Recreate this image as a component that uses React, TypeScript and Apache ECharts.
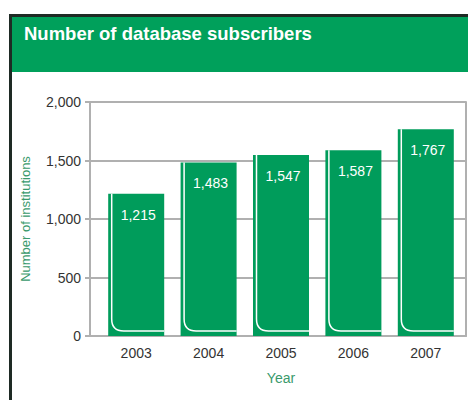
import React, { useEffect, useRef } from "react";
import * as echarts from "echarts";

const years = ["2003", "2004", "2005", "2006", "2007"];
const subscribers = [1215, 1483, 1547, 1587, 1767];
const yTicks = { min: 0, max: 2000, interval: 500 };
const titleText = "Number of database subscribers";
const yName = "Number of institutions";
const xName = "Year";

const GREEN = "#009c5b";
const GRID_GRAY = "#b0b0b0";
const FONT = "'Liberation Sans', Arial, sans-serif";

const fmt = (v: number) => v.toLocaleString("en-US");

export default function App() {
  const ref = useRef<HTMLDivElement>(null);
  useEffect(() => {
    if (!ref.current) return;
    const chart = echarts.init(ref.current, null, { renderer: "svg" });
    const barW = 56;
    chart.setOption({
      animation: false,
      backgroundColor: "#ffffff",
      textStyle: { fontFamily: FONT },
      graphic: [
        { type: "rect", shape: { x: 9, y: 14, width: 459, height: 3 }, style: { fill: "#1e2a24" } },
        { type: "rect", shape: { x: 9, y: 14, width: 3, height: 386 }, style: { fill: "#1e2a24" } },
        { type: "rect", shape: { x: 12, y: 17, width: 456, height: 55 }, style: { fill: "#00a05b" } },
        {
          type: "text",
          x: 24,
          y: 33,
          style: {
            text: titleText,
            fill: "#ffffff",
            font: `bold 18.5px ${FONT}`,
            verticalAlign: "middle",
          },
        },
      ],
      grid: [
        { left: 90, top: 102, width: 376, height: 234 },
        { left: 100, top: 102, width: 362, height: 234 },
      ],
      xAxis: [
        {
          gridIndex: 0,
          type: "value",
          min: 0,
          max: 1,
          axisLine: { show: true, lineStyle: { color: GRID_GRAY, width: 2 } },
          axisTick: { show: false },
          axisLabel: { show: false },
          splitLine: { show: false },
        },
        {
          gridIndex: 1,
          type: "category",
          data: years,
          axisLine: { show: false },
          axisTick: { show: false },
          axisLabel: { color: "#333333", fontSize: 14, margin: 10, fontFamily: FONT },
          name: xName,
          nameLocation: "middle",
          nameGap: 35,
          nameTextStyle: { color: "#3a9a6c", fontSize: 14, fontFamily: FONT },
        },
      ],
      yAxis: [
        {
          gridIndex: 0,
          type: "value",
          min: yTicks.min,
          max: yTicks.max,
          interval: yTicks.interval,
          axisLine: { show: true, lineStyle: { color: GRID_GRAY, width: 2 } },
          axisTick: { show: true, length: 5, lineStyle: { color: GRID_GRAY, width: 2 } },
          axisLabel: {
            color: "#333333",
            fontSize: 14,
            margin: 9,
            fontFamily: FONT,
            formatter: (v: number) => fmt(v),
          },
          splitLine: { show: true, lineStyle: { color: GRID_GRAY, width: 2 } },
          name: yName,
          nameLocation: "middle",
          nameGap: 58,
          nameTextStyle: { color: "#3a9a6c", fontSize: 13, fontFamily: FONT },
        },
        {
          gridIndex: 0,
          type: "value",
          position: "right",
          min: yTicks.min,
          max: yTicks.max,
          interval: yTicks.interval,
          axisLine: { show: true, lineStyle: { color: GRID_GRAY, width: 2 } },
          axisTick: { show: false },
          axisLabel: { show: false },
          splitLine: { show: false },
        },
        {
          gridIndex: 1,
          type: "value",
          min: yTicks.min,
          max: yTicks.max,
          interval: yTicks.interval,
          show: false,
        },
      ],
      series: [
        {
          type: "bar",
          xAxisIndex: 1,
          yAxisIndex: 2,
          data: subscribers,
          barWidth: barW,
          itemStyle: { color: GREEN },
          label: {
            show: true,
            position: "insideTop",
            distance: 14,
            color: "#ffffff",
            fontSize: 14,
            fontFamily: FONT,
            offset: [2, 0],
            formatter: (p: any) => fmt(p.value),
          },
          z: 2,
        },
        {
          type: "custom",
          xAxisIndex: 1,
          yAxisIndex: 2,
          data: subscribers.map((v, i) => [i, v]),
          z: 3,
          silent: true,
          renderItem: (params: any, api: any) => {
            const top = api.coord([api.value(0), api.value(1)]);
            const base = api.coord([api.value(0), 0]);
            const lx = top[0] - barW / 2 + 3.5;
            const rx = top[0] + barW / 2;
            const by = base[1] - 5;
            const ty = top[1];
            const r = 12;
            const d = `M ${lx} ${ty} L ${lx} ${by - r} Q ${lx} ${by} ${lx + r} ${by} L ${rx} ${by}`;
            return {
              type: "path",
              shape: { pathData: d },
              style: { fill: "none", stroke: "#ffffff", lineWidth: 1.5 },
            };
          },
        },
      ],
    });
    return () => chart.dispose();
  }, []);
  return (
    <div
      ref={ref}
      style={{ position: "absolute", left: 0, top: 0, width: 468, height: 400 }}
    />
  );
}
